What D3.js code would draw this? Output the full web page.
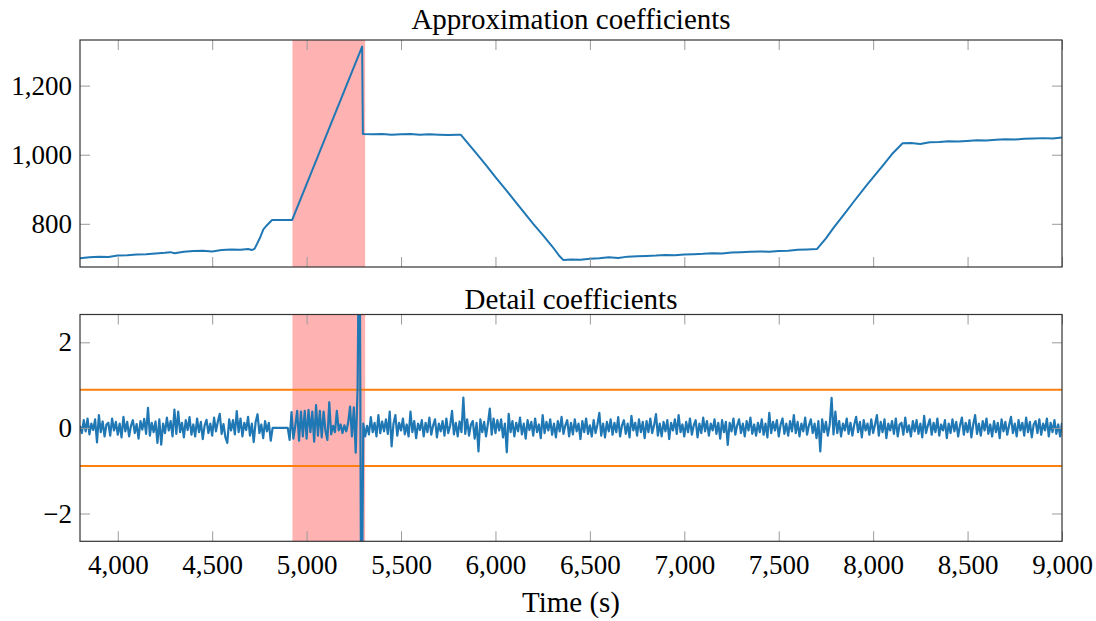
<!DOCTYPE html>
<html>
<head>
<meta charset="utf-8">
<script src="https://cdn.jsdelivr.net/npm/d3@7"></script>
<style>
body { margin: 0; background: #fff; }
text { font-family: "Liberation Serif", "Times New Roman", serif; fill: #000; }
</style>
</head>
<body>
<div id="vis"></div>
<script>
// approximation coefficients (time in s, value)
var approxTime = [3800, 3850, 3900, 3950, 4000, 4050, 4100, 4150, 4200, 4250, 4280, 4300, 4350, 4400, 4450, 4500,
    4550, 4600, 4650, 4690, 4710, 4725, 4740, 4755, 4771, 4790, 4817, 4923, 5294, 5298,
    5350, 5400, 5450, 5500, 5550, 5600, 5650, 5700, 5750, 5800, 5816,
    5850, 5900, 5950, 6000, 6050, 6100, 6150, 6200, 6250, 6300, 6340, 6360,
    6400, 6450, 6500, 6550, 6600, 6650, 6700, 6750, 6800, 6850, 6900, 6950, 7000, 7050, 7100, 7150,
    7200, 7250, 7300, 7350, 7400, 7450, 7500, 7550, 7600, 7650, 7702,
    7750, 7790, 7850, 7900, 7967, 8050, 8100, 8156,
    8200, 8249, 8300, 8350, 8400, 8450, 8496, 8550, 8600, 8650, 8700, 8750, 8800, 8849, 8900, 8950, 9000];
var approxValue = [700, 703, 705, 704, 708, 709, 711, 712, 714, 716, 718, 715, 719, 721, 722, 720,
    724, 726, 725, 727, 724, 728, 745, 762, 784, 796, 811, 811, 1313, 1060,
    1059, 1060, 1058, 1059, 1060, 1058, 1059, 1058, 1057, 1058, 1058,
    1036, 1003, 970, 935, 902, 868, 834, 800, 768, 735, 706, 695,
    697, 696, 699, 700, 703, 701, 705, 706, 707, 708, 710, 709, 711, 712, 713, 715,
    714, 717, 718, 719, 720, 719, 721, 722, 725, 726, 727,
    758, 788, 830, 866, 913, 968, 1002, 1033,
    1034, 1031, 1036, 1037, 1039, 1038, 1040, 1042, 1041, 1043, 1045, 1044, 1046, 1047, 1048, 1047, 1050];

// detail coefficients, one value every 10 s from 3800 s
var detailStart = 3800;
var detailStep = 10;
var detailValue = [
    0.05, -0.12, 0.18, -0.08, 0.22, -0.15, 0.10, -0.05, 0.20, -0.34, 0.30, -0.10, 0.15, -0.20, 0.08, 0.12, -0.18, 0.22, -0.06, 0.14,
    -0.16, 0.10, -0.22, 0.26, -0.08, 0.14, -0.20, 0.05, 0.18, -0.12, 0.09, -0.25, 0.16, -0.04, 0.21, -0.14, 0.47, -0.18, 0.12, -0.10,
    0.15, -0.35, 0.20, -0.39, 0.10, -0.12, 0.24, -0.06, 0.16, -0.20, 0.43, -0.14, 0.38, -0.10, 0.12, -0.22, 0.18, -0.05, 0.25, -0.16,
    0.08, -0.20, 0.22, -0.10, 0.14, -0.26, 0.06, 0.19, -0.12, 0.10, -0.18, 0.24, -0.08, 0.15, 0.33, -0.14, 0.09, -0.22, -0.35, 0.20,
    -0.06, 0.18, -0.15, 0.39, -0.10, 0.22, -0.20, 0.12, -0.05, 0.26, -0.18, 0.10, -0.33, 0.14, 0.32, -0.12, 0.08, -0.24, 0.16, -0.08,
    0.12, -0.30, 0, 0, 0, 0, 0, 0, 0, 0, 0, -0.28, 0.37, -0.25, 0.05, 0.40, -0.30, 0.38, -0.20, 0.40,
    -0.25, 0.42, -0.10, 0.38, -0.32, 0.53, -0.18, 0.40, -0.22, 0.38, -0.08, -0.28, 0.60, -0.15, 0.05, -0.10, 0.40, -0.06, 0.08, -0.12,
    0.06, -0.08, 0.12, 0.50, -0.20, 0.48, -0.58, 0.95, 6, -6, 0.10, -0.20, 0.05, -0.15, 0.25, -0.10, 0.12, -0.20, 0.30, -0.12,
    0.15, -0.08, 0.20, -0.14, 0.38, -0.43, 0.10, 0.30, -0.18, 0.12, -0.06, 0.22, -0.15, 0.08, -0.20, 0.38, -0.10, 0.16, -0.24, 0.10,
    -0.05, 0.18, -0.20, 0.12, -0.10, 0.24, -0.16, 0.06, 0.20, -0.22, 0.10, -0.08, 0.16, -0.18, 0.22, -0.12, 0.05, 0.40, -0.15, 0.12,
    -0.20, 0.15, -0.10, 0.71, -0.14, 0.20, -0.18, 0.08, 0.16, -0.25, 0.12, -0.55, 0.20, -0.10, 0.14, -0.20, 0.10, 0.45, -0.16, 0.22,
    -0.12, 0.18, -0.06, 0.20, -0.22, 0.10, -0.57, 0.33, -0.10, 0.16, -0.20, 0.12, -0.08, 0.24, -0.15, 0.10, -0.25, 0.18, -0.05, 0.14,
    -0.18, 0.22, -0.10, 0.08, -0.24, 0.30, -0.12, 0.14, -0.06, 0.20, -0.16, 0.10, -0.22, 0.16, -0.08, 0.26, -0.14, 0.06, 0.18, -0.20,
    0.12, -0.15, 0.20, -0.08, 0.10, -0.26, 0.16, -0.10, 0.22, -0.14, 0.06, -0.20, 0.18, -0.12, 0.08, 0.35, -0.18, 0.10, -0.22, 0.14,
    -0.08, 0.20, -0.16, 0.12, -0.10, 0.25, -0.20, 0.06, 0.18, -0.14, 0.10, -0.22, 0.28, -0.06, 0.12, -0.18, 0.20, -0.10, 0.14, -0.24,
    0.16, -0.10, 0.22, -0.12, 0.06, 0.32, -0.18, 0.10, -0.20, 0.14, -0.08, 0.18, -0.26, 0.12, -0.06, 0.20, -0.14, 0.30, -0.10, 0.08,
    -0.20, 0.14, -0.10, 0.22, -0.16, 0.06, 0.18, -0.22, 0.10, -0.12, 0.24, -0.08, 0.16, -0.18, 0.10, -0.06, 0.20, -0.14, 0.12, -0.25,
    0.18, -0.10, 0.14, -0.40, 0.12, -0.08, 0.22, -0.16, 0.06, 0.20, -0.12, 0.10, -0.20, 0.16, -0.06, 0.24, -0.14, 0.08, -0.18, 0.12,
    -0.10, 0.20, -0.16, 0.10, -0.22, 0.35, -0.12, 0.14, -0.06, 0.18, -0.20, 0.08, 0.22, -0.14, 0.10, -0.18, 0.16, -0.08, 0.30, -0.12,
    0.14, -0.20, 0.10, -0.08, 0.24, -0.16, 0.06, 0.20, -0.12, 0.10, -0.24, 0.16, -0.55, 0.20, -0.10, 0.14, -0.18, 0.08, 0.70, -0.15,
    0.38, -0.12, 0.16, -0.20, 0.10, -0.06, 0.22, -0.14, 0.12, -0.18, 0.08, 0.26, -0.10, 0.14, -0.22, 0.18, -0.06, 0.10, -0.16, 0.20,
    -0.12, 0.08, 0.30, -0.18, 0.14, -0.10, 0.20, -0.24, 0.10, -0.06, 0.16, -0.14, 0.22, -0.20, 0.08, 0.12, -0.16, 0.24, -0.10, 0.06,
    -0.20, 0.16, -0.08, 0.18, -0.14, 0.10, -0.22, 0.28, -0.12, 0.06, 0.20, -0.16, 0.12, -0.10, 0.22, -0.18, 0.08, -0.06, 0.18, -0.24,
    0.10, -0.12, 0.20, -0.08, 0.14, -0.20, 0.06, 0.24, -0.16, 0.12, -0.10, 0.18, -0.22, 0.08, 0.30, -0.14, 0.10, -0.18, 0.16, -0.06,
    0.22, -0.14, 0.08, -0.20, 0.16, -0.10, 0.12, -0.24, 0.20, -0.08, 0.14, -0.16, 0.06, 0.26, -0.12, 0.10, -0.20, 0.18, -0.06, 0.12,
    -0.18, 0.24, -0.10, 0.14, -0.22, 0.08, 0.16, -0.12, 0.20, -0.16, 0.10, -0.06, 0.22, -0.20, 0.12, -0.10, 0.18, -0.14, 0.08, -0.20,
    0.12];

// detection threshold and flagged interval
var threshold = [0.89, -0.89];
var flagged = [4925, 5310];

var xTicks = [4000, 4500, 5000, 5500, 6000, 6500, 7000, 7500, 8000, 8500, 9000];
var approxTicks = [800, 1000, 1200];
var detailTicks = [-2, 0, 2];

var width = 1096;
var height = 621;

var svg = d3.select("#vis")
    .append("svg")
    .attr("width", width)
    .attr("height", height);

var x = d3.scaleLinear()
    .domain([3800, 9000])
    .range([80, 1062]);

var fmt = d3.format(",");

function panel(id, y0, y1, domain, yticks, title, titleY, xLabels) {
    var y = d3.scaleLinear().domain(domain).range([y1, y0]);
    var g = svg.append("g");

    g.append("clipPath")
        .attr("id", id)
        .append("rect")
        .attr("x", x.range()[0])
        .attr("y", y0)
        .attr("width", x.range()[1] - x.range()[0])
        .attr("height", y1 - y0);

    var plot = g.append("g").attr("clip-path", "url(#" + id + ")");

    plot.append("rect")
        .attr("x", x(flagged[0]))
        .attr("y", y0)
        .attr("width", x(flagged[1]) - x(flagged[0]))
        .attr("height", y1 - y0)
        .attr("fill", "#ffb2b2");

    // ticks on all four sides, pointing inward
    g.append("g")
        .attr("transform", "translate(0," + y1 + ")")
        .call(d3.axisBottom(x).tickValues(xTicks).tickSize(-10).tickPadding(14)
            .tickFormat(xLabels ? fmt : ""))
        .call(styleAxis);
    g.append("g")
        .attr("transform", "translate(0," + y0 + ")")
        .call(d3.axisTop(x).tickValues(xTicks).tickSize(-10).tickFormat(""))
        .call(styleAxis);
    g.append("g")
        .attr("transform", "translate(" + x.range()[0] + ",0)")
        .call(d3.axisLeft(y).tickValues(yticks).tickSize(-10).tickPadding(8).tickFormat(fmt))
        .call(styleAxis);
    g.append("g")
        .attr("transform", "translate(" + x.range()[1] + ",0)")
        .call(d3.axisRight(y).tickValues(yticks).tickSize(-10).tickFormat(""))
        .call(styleAxis);

    g.append("text")
        .attr("x", (x.range()[0] + x.range()[1]) / 2)
        .attr("y", titleY)
        .attr("text-anchor", "middle")
        .attr("font-size", 29)
        .text(title);

    return {y: y, plot: plot, g: g, y0: y0, y1: y1};
}

function styleAxis(sel) {
    sel.select(".domain").remove();
    sel.selectAll(".tick line").attr("stroke", "#9a9a9a").attr("stroke-width", 1);
    sel.selectAll(".tick text").attr("font-size", 27);
    sel.attr("font-family", null).attr("font-size", null);
}

function frame(p) {
    p.g.append("rect")
        .attr("x", x.range()[0])
        .attr("y", p.y0)
        .attr("width", x.range()[1] - x.range()[0])
        .attr("height", p.y1 - p.y0)
        .attr("fill", "none")
        .attr("stroke", "#333")
        .attr("stroke-width", 1.2);
}

// approximation panel
var approxPanel = panel("clipA", 40, 267, [675, 1332], approxTicks, "Approximation coefficients", 29, false);

var approxLine = d3.line()
    .x(function (d, i) { return x(approxTime[i]); })
    .y(function (d) { return approxPanel.y(d); });

approxPanel.plot.append("path")
    .datum(approxValue)
    .attr("d", approxLine)
    .attr("fill", "none")
    .attr("stroke", "#1f77b4")
    .attr("stroke-width", 2)
    .attr("stroke-linejoin", "round");
frame(approxPanel);

// detail panel
var detailPanel = panel("clipD", 314.5, 541.3, [-2.65, 2.65], detailTicks, "Detail coefficients", 309, true);

detailPanel.plot.selectAll(".thr")
    .data(threshold)
    .enter()
    .append("line")
    .attr("class", "thr")
    .attr("x1", x.range()[0])
    .attr("x2", x.range()[1])
    .attr("y1", function (d) { return detailPanel.y(d); })
    .attr("y2", function (d) { return detailPanel.y(d); })
    .attr("stroke", "#ff7f0e")
    .attr("stroke-width", 2);

var detailLine = d3.line()
    .x(function (d, i) { return x(detailStart + i * detailStep); })
    .y(function (d) { return detailPanel.y(d); });

detailPanel.plot.append("path")
    .datum(detailValue)
    .attr("d", detailLine)
    .attr("fill", "none")
    .attr("stroke", "#1f77b4")
    .attr("stroke-width", 2.2)
    .attr("stroke-linejoin", "round");
frame(detailPanel);

svg.append("text")
    .attr("x", (x.range()[0] + x.range()[1]) / 2)
    .attr("y", 612)
    .attr("text-anchor", "middle")
    .attr("font-size", 29)
    .text("Time (s)");
</script>
</body>
</html>
